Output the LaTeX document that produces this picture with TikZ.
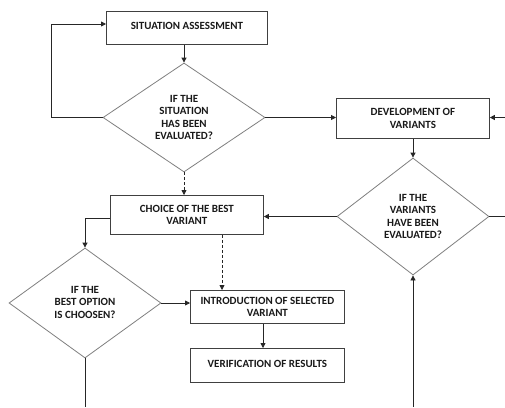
\documentclass[tikz,border=0pt]{standalone}
\usepackage{fontspec}
\setmainfont{Carlito}[BoldFont={Carlito Bold}]
\usetikzlibrary{shapes.geometric,arrows.meta}
\begin{document}
\begin{tikzpicture}[x=1pt,y=-1pt,
  txt/.style={font=\fontsize{11}{12.5}\selectfont\bfseries, text=black!90, align=center, inner sep=0pt},
  box/.style={txt, draw=black!75, line width=0.8pt, rectangle, anchor=north west},
  dia/.style={txt, draw=black!50, line width=0.8pt, diamond},
  conn/.style={draw=black!85, line width=0.8pt, -{Triangle[length=5pt,width=5pt]}},
  plain/.style={draw=black!85, line width=0.8pt},
  dsh/.style={conn, dash pattern=on 3pt off 2pt}]
\useasboundingbox (0,0) rectangle (505,407);
\fill[white] (0,0) rectangle (505,407);
% boxes
\node[box, minimum width=161pt, minimum height=33pt] (sa) at (106,11) {\raisebox{4pt}{SITUATION ASSESSMENT}};
\node[box, minimum width=153pt, minimum height=40pt] (dev) at (336,98) {DEVELOPMENT OF\\VARIANTS};
\node[box, minimum width=153pt, minimum height=39pt] (ch) at (110,195) {CHOICE OF THE BEST\\VARIANT};
\node[box, minimum width=154pt, minimum height=33pt] (intro) at (190,290) {INTRODUCTION OF SELECTED\\VARIANT};
\node[box, minimum width=154pt, minimum height=34pt] (ver) at (190,348) {\raisebox{3pt}{VERIFICATION OF RESULTS}};
% diamonds
\node[dia, minimum width=162pt, minimum height=109pt] (d1) at (184,117.5) {IF THE\\SITUATION\\HAS BEEN\\EVALUATED?};
\node[dia, minimum width=152pt, minimum height=117pt] (d2) at (413,216.5) {IF THE\\VARIANTS\\HAVE BEEN\\EVALUATED?};
\node[dia, minimum width=152pt, minimum height=110pt] (d3) at (85,303) {\raisebox{4pt}{\begin{tabular}{@{}c@{}}IF THE\\BEST OPTION\\IS CHOOSEN?\end{tabular}}};
% free ends
\coordinate (r1) at (505,117.5);
\coordinate (r2) at (505,216.5);
\coordinate (b1) at (85,407);
\coordinate (b2) at (413,407);
\coordinate (lp) at (51,117.5);
% connectors
\draw[conn] (sa.south -| d1.north) -- (d1.north);
\draw[conn] (d1.west) -- (lp) -- (lp |- 0,24) -- (sa.west |- 0,24);
\draw[conn] (d1.east) -- (dev.west |- d1.east);
\draw[conn] (r1) -- (dev.east |- r1);
\draw[conn] (dev.south -| d2.north) -- (d2.north);
\draw[conn] (d2.west) -- (ch.east |- d2.west);
\draw[plain] (d2.east) -- (r2);
\draw[dsh] (d1.south) -- (d1.south |- ch.north);
\draw[conn] (ch.west |- 0,218) -| (d3.north);
\draw[conn] (d3.east) -- (intro.west |- d3.east);
\draw[dsh] (222,0 |- ch.south) -- (222,0 |- intro.north);
\draw[conn] (263,0 |- intro.south) -- (263,0 |- ver.north);
\draw[plain] (d3.south) -- (b1);
\draw[conn] (b2) -- (d2.south);
\end{tikzpicture}
\end{document}
